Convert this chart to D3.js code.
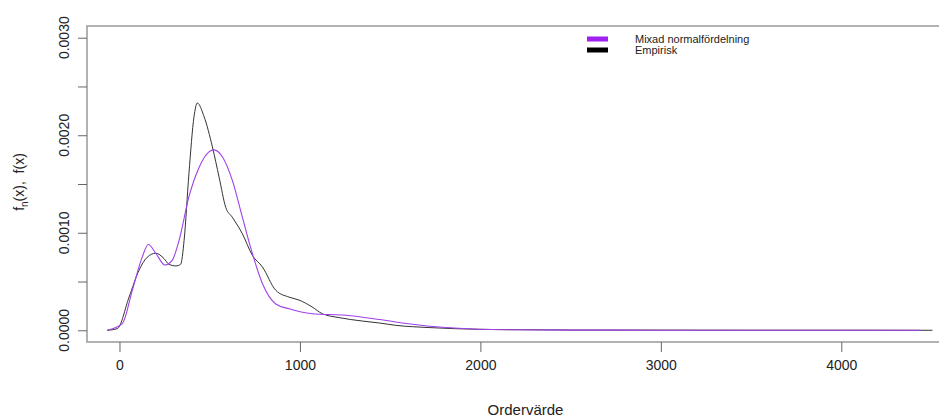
<!DOCTYPE html>
<html>
<head>
<meta charset="utf-8">
<script src="https://cdn.jsdelivr.net/npm/d3@7"></script>
<style>
  body { margin: 0; background: #fff; }
  svg text { font-family: "Liberation Sans", Arial, sans-serif; fill: #222; }
</style>
</head>
<body>
<div id="chart"></div>
<script>
var empX = [-68, -12, 53, 108, 154, 201, 247, 274, 312, 339, 358, 385, 413, 431, 469, 515, 552, 589, 625, 681, 736, 792, 866, 940, 995, 1067, 1124, 1217, 1345, 1439, 1531, 1716, 1993, 2200, 2500, 3000, 3500, 4000, 4505];
var empY = [0, 0.000017, 0.00034, 0.000615, 0.00075, 0.00079, 0.000735, 0.000677, 0.00066, 0.000677, 0.00092, 0.00161, 0.00219, 0.00233, 0.00219, 0.00188, 0.00157, 0.00126, 0.00116, 0.00099, 0.00077, 0.00065, 0.00041, 0.00034, 0.00031, 0.00024, 0.00017, 0.00013, 0.000095, 0.000075, 0.000051, 0.000028, 0.00001, 0.000006, 0.000003, 0.000002, 0.000001, 0.000001, 0];
// mixed normal density
var mixX = [-69, 16, 71, 126, 160, 201, 252, 293, 330, 385, 441, 496, 524, 570, 625, 681, 736, 792, 866, 940, 1069, 1254, 1439, 1623, 1809, 1993, 2200, 2500, 3000, 4000, 4440];
var mixY = [0, 0.000069, 0.00041, 0.00075, 0.00088, 0.00079, 0.00067, 0.00072, 0.00092, 0.00137, 0.00167, 0.00183, 0.00185, 0.00178, 0.00154, 0.00116, 0.00079, 0.00048, 0.00027, 0.00022, 0.00017, 0.000154, 0.00011, 0.000062, 0.000028, 0.00001, 0.000005, 0.000002, 0.000001, 0, 0];
var xTicks = [0, 1000, 2000, 3000, 4000];
var yTicks = [0, 0.0005, 0.001, 0.0015, 0.002, 0.0025, 0.003];
var yLabels = [0, 0.001, 0.002, 0.003];
var legendNames = ["Mixad normalfördelning", "Empirisk"];
var legendColors = ["#a020f0", "#000000"];

var width = 939, height = 417;
var box = { left: 87, right: 964, top: 26, bottom: 342 };

var svg = d3
  .select("#chart")
  .append("svg")
  .attr("width", width)
  .attr("height", height);

// xlim c(0,4500), ylim c(0,0.003) with R's 4% padding
var x = d3.scaleLinear().domain([-180, 4680]).range([box.left, box.right]);
var y = d3.scaleLinear().domain([-0.00012, 0.00312]).range([box.bottom, box.top]);

svg
  .append("clipPath")
  .attr("id", "clip")
  .append("rect")
  .attr("x", box.left)
  .attr("y", box.top)
  .attr("width", box.right - box.left)
  .attr("height", box.bottom - box.top);

// curves
var line = d3
  .line()
  .x(function (d) { return x(d[0]); })
  .y(function (d) { return y(d[1]); })
  .curve(d3.curveMonotoneX);

var curves = svg.append("g").attr("clip-path", "url(#clip)");
curves
  .append("path")
  .datum(d3.zip(empX, empY))
  .attr("d", line)
  .attr("fill", "none")
  .attr("stroke", "#333")
  .attr("stroke-width", 1);
curves
  .append("path")
  .datum(d3.zip(mixX, mixY))
  .attr("d", line)
  .attr("fill", "none")
  .attr("stroke", "#a040e8")
  .attr("stroke-width", 1.1);

// box
svg
  .append("rect")
  .attr("x", box.left)
  .attr("y", box.top)
  .attr("width", box.right - box.left)
  .attr("height", box.bottom - box.top)
  .attr("fill", "none")
  .attr("stroke", "#999")
  .attr("stroke-width", 1.5);

// x axis
var xAxis = svg
  .append("g")
  .attr("transform", "translate(0," + box.bottom + ")")
  .call(d3.axisBottom(x).tickValues(xTicks).tickSize(10).tickPadding(8).tickFormat(d3.format("d")));
xAxis.select(".domain").remove();
xAxis.selectAll("line").attr("stroke", "#666");
xAxis.selectAll("text").attr("font-size", "14px").attr("fill", "#222");

// y axis, labels rotated like R's las=0
var yAxis = svg
  .append("g")
  .attr("transform", "translate(" + box.left + ",0)")
  .call(d3.axisLeft(y).tickValues(yTicks).tickSize(9).tickFormat(""));
yAxis.select(".domain").remove();
yAxis.selectAll("line").attr("stroke", "#666");

svg
  .append("g")
  .selectAll("text")
  .data(yLabels)
  .enter()
  .append("text")
  .attr("transform", function (d) {
    return "translate(69," + y(d) + ") rotate(-90)";
  })
  .attr("text-anchor", "middle")
  .attr("font-size", "14px")
  .text(d3.format(".4f"));

// axis titles
svg
  .append("text")
  .attr("x", (box.left + box.right) / 2)
  .attr("y", 415)
  .attr("text-anchor", "middle")
  .attr("font-size", "15px")
  .text("Ordervärde");

var ylab = svg
  .append("text")
  .attr("transform", "translate(24,182) rotate(-90)")
  .attr("text-anchor", "middle")
  .attr("font-size", "14px");
ylab.append("tspan").text("f");
ylab.append("tspan").attr("dy", 4).attr("font-size", "10px").text("n");
ylab.append("tspan").attr("dy", -4).attr("xml:space", "preserve").text("(x),\u00a0 f(x)");

// legend
var legend = svg
  .append("g")
  .selectAll("g")
  .data(legendNames)
  .enter()
  .append("g")
  .attr("transform", function (d, i) {
    return "translate(587," + (39 + i * 11) + ")";
  });
legend
  .append("rect")
  .attr("x", 0)
  .attr("y", -2.5)
  .attr("width", 21)
  .attr("height", 5)
  .attr("fill", function (d, i) { return legendColors[i]; });
legend
  .append("text")
  .attr("x", 48)
  .attr("y", 4)
  .attr("font-size", "11px")
  .text(function (d) { return d; });
</script>
</body>
</html>
